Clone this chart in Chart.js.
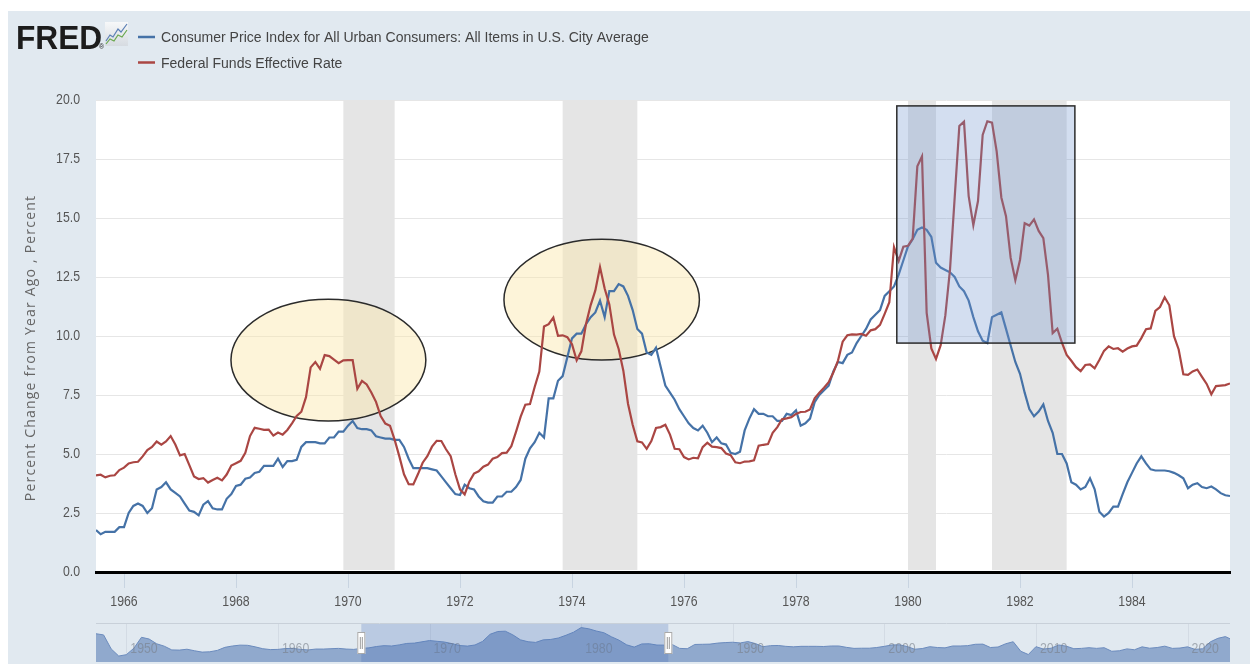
<!DOCTYPE html>
<html>
<head>
<meta charset="utf-8">
<title>FRED - CPI vs Federal Funds Rate</title>
<script src="https://cdn.jsdelivr.net/npm/chart.js@4.4.1/dist/chart.umd.min.js"></script>
<style>
  html, body { margin: 0; padding: 0; background: #fff; }
  #wrap { position: relative; width: 1250px; height: 664px; overflow: hidden; }
  #main { position: absolute; left: 0; top: 0; }
  #nav { position: absolute; left: 96px; top: 623px; }
</style>
</head>
<body>
<div id="wrap">
  <canvas id="main" width="1250" height="664"></canvas>
  <canvas id="nav" width="1134" height="41"></canvas>
</div>
<script>
// monthly observations, first one is July 1965
const START_YEAR = 1965;
const START_MONTH = 7;

const seriesNames = [
  'Consumer Price Index for All Urban Consumers: All Items in U.S. City Average',
  'Federal Funds Effective Rate'
];

// CPI, percent change from year ago
const cpiYoY = [
  1.78, 1.6, 1.7, 1.7, 1.7, 1.9,
  1.9, 2.5, 2.8, 2.9, 2.8, 2.5, 2.7, 3.5, 3.6, 3.8, 3.5, 3.35,
  3.2, 2.9, 2.6, 2.55, 2.4, 2.85, 3.0, 2.7, 2.65, 2.65, 3.1, 3.3,
  3.65, 3.7, 3.95, 4.0, 4.2, 4.25, 4.5, 4.5, 4.5, 4.8, 4.45, 4.7,
  4.7, 4.75, 5.3, 5.5, 5.5, 5.5, 5.45, 5.45, 5.7, 5.7, 5.95, 5.95,
  6.2, 6.4, 6.1, 6.05, 6.05, 6.0, 5.75, 5.7, 5.65, 5.65, 5.6, 5.6,
  5.3, 4.8, 4.4, 4.4, 4.4, 4.4, 4.35, 4.3, 4.05, 3.8, 3.55, 3.3,
  3.26, 3.7, 3.55, 3.5, 3.2, 3.0, 2.94, 2.94, 3.2, 3.2, 3.4, 3.4,
  3.6, 3.9, 4.8, 5.24, 5.5, 5.9, 5.7, 7.36, 7.36, 8.1, 8.3, 9.1,
  9.9, 10.1, 10.1, 10.5, 10.8, 11.0, 11.5, 10.8, 11.9, 11.9, 12.2, 12.1,
  11.7, 11.1, 10.3, 10.1, 9.3, 9.2, 9.5, 8.7, 7.9, 7.6, 7.3, 6.9,
  6.6, 6.3, 6.1, 6.0, 6.2, 5.9, 5.5, 5.7, 5.45, 5.4, 5.05, 5.0,
  5.1, 6.0, 6.5, 6.9, 6.7, 6.7, 6.6, 6.6, 6.4, 6.4, 6.7, 6.65,
  6.85, 6.2, 6.3, 6.5, 7.2, 7.5, 7.7, 7.9, 8.5, 8.9, 8.85, 9.2,
  9.3, 9.7, 10.0, 10.3, 10.7, 10.9, 11.1, 11.7, 11.9, 12.1, 12.6, 13.2,
  13.8, 14.1, 14.5, 14.6, 14.5, 14.2, 13.1, 12.9, 12.8, 12.7, 12.5, 12.1,
  11.9, 11.5, 10.8, 10.2, 9.8, 9.7, 10.8, 10.9, 11.0, 10.3, 9.6, 8.9,
  8.4, 7.6, 6.9, 6.6, 6.8, 7.1, 6.4, 5.9, 5.0, 5.0, 4.6, 3.8,
  3.7, 3.5, 3.6, 3.97, 3.5, 2.55, 2.35, 2.5, 2.77, 2.77, 3.3, 3.8,
  4.2, 4.6, 4.9, 4.6, 4.35, 4.3, 4.3, 4.3, 4.27, 4.2, 4.1, 3.97,
  3.55, 3.7, 3.76, 3.6, 3.55, 3.62, 3.5, 3.34, 3.25, 3.22
];

// Federal funds effective rate, percent
const fedFunds = [
  4.09, 4.12, 4.01, 4.08, 4.10, 4.32,
  4.42, 4.60, 4.65, 4.67, 4.90, 5.17, 5.30, 5.53, 5.40, 5.53, 5.76, 5.40,
  4.94, 5.00, 4.53, 4.05, 3.94, 3.98, 3.79, 3.90, 3.99, 3.88, 4.13, 4.51,
  4.61, 4.71, 5.05, 5.76, 6.11, 6.07, 6.02, 6.03, 5.78, 5.91, 5.82, 6.02,
  6.30, 6.61, 6.79, 7.41, 8.67, 8.90, 8.61, 9.19, 9.15, 9.00, 8.85, 8.97,
  8.98, 8.98, 7.76, 8.10, 7.95, 7.61, 7.21, 6.61, 6.29, 6.20, 5.60, 4.90,
  4.14, 3.72, 3.71, 4.15, 4.63, 4.91, 5.31, 5.56, 5.55, 5.20, 4.91, 4.14,
  3.50, 3.29, 3.83, 4.17, 4.27, 4.46, 4.55, 4.80, 4.87, 5.04, 5.06, 5.33,
  5.94, 6.58, 7.09, 7.12, 7.84, 8.49, 10.40, 10.50, 10.78, 10.01, 10.03, 9.95,
  9.65, 8.97, 9.35, 10.51, 11.31, 11.93, 12.92, 12.01, 11.34, 10.06, 9.45, 8.53,
  7.13, 6.24, 5.54, 5.49, 5.22, 5.55, 6.10, 6.14, 6.24, 5.82, 5.22, 5.20,
  4.87, 4.77, 4.84, 4.82, 5.29, 5.48, 5.31, 5.29, 5.25, 5.02, 4.95, 4.65,
  4.61, 4.68, 4.69, 4.73, 5.35, 5.39, 5.42, 5.90, 6.14, 6.47, 6.51, 6.56,
  6.70, 6.78, 6.79, 6.89, 7.36, 7.60, 7.81, 8.04, 8.45, 8.96, 9.76, 10.03,
  10.07, 10.06, 10.09, 10.01, 10.24, 10.29, 10.47, 10.94, 11.43, 13.77, 13.18, 13.78,
  13.82, 14.13, 17.19, 17.61, 10.98, 9.47, 9.03, 9.61, 10.87, 12.81, 15.85, 18.90,
  19.08, 15.93, 14.70, 15.72, 18.52, 19.10, 19.04, 17.82, 15.87, 15.08, 13.31, 12.37,
  13.22, 14.78, 14.68, 14.94, 14.45, 14.15, 12.59, 10.12, 10.31, 9.71, 9.20, 8.95,
  8.68, 8.51, 8.77, 8.80, 8.63, 8.98, 9.37, 9.56, 9.45, 9.48, 9.34, 9.47,
  9.56, 9.59, 9.91, 10.29, 10.32, 11.06, 11.23, 11.64, 11.30, 9.99, 9.43, 8.38,
  8.35, 8.50, 8.58, 8.27, 7.97, 7.53, 7.88, 7.90, 7.92, 7.99
];

const tickYears = [1966, 1968, 1970, 1972, 1974, 1976, 1978, 1980, 1982, 1984];
const yTicks = [0, 2.5, 5, 7.5, 10, 12.5, 15, 17.5, 20];
const yTitle = 'Percent Change from Year Ago , Percent';

// NBER recessions (start, end) as decimal years
const recessions = [[1969.917, 1970.833], [1973.833, 1975.167], [1980.0, 1980.5], [1981.5, 1982.833]];

// hand-drawn highlights, in data units
const ellipses = [
  { cx: 1969.65, cy: 8.98, rx: 1.74, ry: 2.58 },
  { cx: 1974.53, cy: 11.54, rx: 1.745, ry: 2.555 }
];
const box = { x0: 1979.80, x1: 1982.98, y0: 9.7, y1: 19.75 };

// navigator strip: CPI year-ago change, half-year steps from 1948
const NAV_START = 1948;
const navValues = [
  10.2, 9.5, 1.3, -2.9, -2.1, 1.7, 8.1, 7.1, 4.3, 2.9, 0.7, 0.6, 1.1, 0.2, -0.6, -0.4,
  0.4, 2.2, 3.0, 3.5, 3.4, 2.5, 1.4, 0.9, 1.0, 1.5, 1.6, 1.0, 0.7, 1.2, 1.2, 1.4,
  1.6, 1.2, 1.0, 1.6, 1.9, 2.7, 3.2, 3.0, 3.65, 4.5, 4.7, 5.45, 6.2, 5.75, 5.3, 4.35,
  3.26, 2.94, 3.6, 5.7, 9.9, 11.5, 11.7, 9.5, 6.6, 5.5, 5.1, 6.6, 6.85, 7.7, 9.3, 11.1,
  13.8, 13.1, 11.8, 10.8, 8.4, 6.4, 3.7, 2.35, 4.2, 4.3, 3.55, 3.5, 3.9, 1.6, 1.4, 3.9,
  4.0, 4.1, 4.7, 5.0, 5.2, 4.8, 5.6, 4.4, 2.6, 3.2, 3.3, 2.8, 2.5, 2.8, 2.8, 2.8,
  2.7, 3.0, 3.0, 2.2, 1.6, 1.7, 1.7, 2.1, 2.8, 3.6, 3.7, 2.7, 1.1, 1.5, 2.6, 2.1,
  1.9, 3.0, 3.0, 3.2, 4.0, 4.1, 2.1, 2.4, 4.3, 5.5, -0.1, -2.0, 2.6, 1.2, 1.7, 3.6,
  2.9, 1.4, 1.6, 2.0, 1.6, 2.0, -0.1, 0.2, 1.3, 0.8, 2.5, 1.7, 2.1, 2.9, 1.6, 1.8,
  2.5, 1.0, 1.4, 5.4, 7.5, 8.5, 6.4
];
const navLabelYears = [1950, 1960, 1970, 1980, 1990, 2000, 2010, 2020];

// FRED uses a condensed face; squeeze Liberation Sans the way Arial Narrow does
function narrowText(ctx, text, x, y, size, align, color, sx = 0.82) {
  ctx.save();
  ctx.translate(x, y);
  ctx.scale(sx, 1);
  ctx.font = `${size}px "Liberation Sans", Arial, sans-serif`;
  ctx.textAlign = align;
  ctx.textBaseline = 'middle';
  ctx.fillStyle = color;
  ctx.fillText(text, 0, 0);
  ctx.restore();
}

const toYear = i => START_YEAR + (START_MONTH - 1 + i) / 12;
const xMin = toYear(0);
const xMax = toYear(cpiYoY.length - 1);

const fredDecor = {
  id: 'fredDecor',
  beforeDraw(chart) {
    const { ctx, chartArea: a } = chart;
    ctx.save();
    ctx.fillStyle = '#fff';
    ctx.fillRect(0, 0, chart.width, chart.height);
    ctx.fillStyle = '#e1e9f0';
    ctx.fillRect(8, 11, chart.width - 8, chart.height - 11);
    ctx.fillStyle = '#fff';
    ctx.fillRect(a.left, a.top, a.right - a.left, a.bottom - a.top);
    ctx.restore();
  },
  beforeDatasetsDraw(chart) {
    const { ctx, chartArea: a, scales: { x, y } } = chart;
    ctx.save();
    ctx.fillStyle = '#e5e5e5';
    recessions.forEach(([s, e]) => {
      const x0 = x.getPixelForValue(s), x1 = x.getPixelForValue(e);
      ctx.fillRect(x0, a.top, x1 - x0, a.bottom - a.top - 2);
    });
    // ellipses sit under the lines
    ellipses.forEach(e => {
      const cx = x.getPixelForValue(e.cx), cy = y.getPixelForValue(e.cy);
      const rx = x.getPixelForValue(e.cx + e.rx) - cx;
      const ry = cy - y.getPixelForValue(e.cy + e.ry);
      ctx.beginPath();
      ctx.ellipse(cx, cy, rx, ry, 0, 0, Math.PI * 2);
      ctx.fillStyle = 'rgba(250, 230, 170, 0.45)';
      ctx.fill();
      ctx.lineWidth = 1.5;
      ctx.strokeStyle = '#2b2b2b';
      ctx.stroke();
    });
    ctx.restore();
  },
  afterDatasetsDraw(chart) {
    const { ctx, scales: { x, y } } = chart;
    ctx.save();
    const bx0 = x.getPixelForValue(box.x0), bx1 = x.getPixelForValue(box.x1);
    const by0 = y.getPixelForValue(box.y1), by1 = y.getPixelForValue(box.y0);
    ctx.fillStyle = 'rgba(110, 145, 205, 0.3)';
    ctx.fillRect(bx0, by0, bx1 - bx0, by1 - by0);
    ctx.lineWidth = 1.5;
    ctx.strokeStyle = '#2b2b2b';
    ctx.strokeRect(bx0, by0, bx1 - bx0, by1 - by0);
    ctx.restore();
  },
  afterDraw(chart) {
    const { ctx, scales: { x, y } } = chart;
    ctx.save();

    // tick labels
    yTicks.forEach(v => narrowText(ctx, v.toFixed(1), 80, y.getPixelForValue(v), 15, 'right', '#555'));
    tickYears.forEach(v => narrowText(ctx, String(v), x.getPixelForValue(v), 602, 15, 'center', '#555'));

    // FRED logo
    ctx.fillStyle = '#1c1c1c';
    ctx.font = 'bold 33px "Liberation Sans", sans-serif';
    ctx.textBaseline = 'alphabetic';
    ctx.save();
    ctx.translate(16, 49);
    ctx.scale(0.96, 1);
    ctx.fillText('FRED', 0, 0);
    ctx.restore();
    ctx.font = '7px "Liberation Sans", sans-serif';
    ctx.fillText('\u00AE', 99, 49);
    const g = ctx.createLinearGradient(0, 22, 0, 46);
    g.addColorStop(0, '#f7f8f9');
    g.addColorStop(1, '#d6dbe1');
    ctx.fillStyle = g;
    ctx.fillRect(105, 22, 23, 24);
    ctx.lineWidth = 1.2;
    ctx.strokeStyle = '#5b7fb5';
    ctx.beginPath();
    [[106, 41], [110, 35], [113, 37], [118, 29], [121, 32], [127, 24]].forEach(([px, py], i) => i ? ctx.lineTo(px, py) : ctx.moveTo(px, py));
    ctx.stroke();
    ctx.strokeStyle = '#6aa84f';
    ctx.beginPath();
    [[106, 44], [110, 39], [114, 41], [118, 35], [122, 37], [127, 30]].forEach(([px, py], i) => i ? ctx.lineTo(px, py) : ctx.moveTo(px, py));
    ctx.stroke();

    // legend
    chart.data.datasets.forEach((ds, i) => {
      const ly = 37 + i * 25.5;
      ctx.strokeStyle = ds.borderColor;
      ctx.lineWidth = 2.5;
      ctx.beginPath();
      ctx.moveTo(138, ly);
      ctx.lineTo(155, ly);
      ctx.stroke();
      narrowText(ctx, ds.label, 161, ly + 1, 15.5, 'left', '#444', 0.905);
    });

    // y axis title
    ctx.translate(31, 348);
    ctx.rotate(-Math.PI / 2);
    ctx.textAlign = 'center';
    ctx.textBaseline = 'middle';
    ctx.font = '14px "Open Sans", sans-serif';
    ctx.letterSpacing = '1.2px';
    ctx.fillStyle = '#666';
    ctx.fillText(yTitle, 0, 0);
    ctx.restore();
  }
};

new Chart(document.getElementById('main'), {
  type: 'line',
  data: {
    datasets: [
      {
        label: seriesNames[0],
        data: cpiYoY.map((v, i) => ({ x: toYear(i), y: v })),
        borderColor: '#4572a7',
        borderWidth: 2.2,
        pointRadius: 0,
        tension: 0,
        order: 1
      },
      {
        label: seriesNames[1],
        data: fedFunds.map((v, i) => ({ x: toYear(i), y: v })),
        borderColor: '#aa4643',
        borderWidth: 2.2,
        pointRadius: 0,
        tension: 0,
        order: 0
      }
    ]
  },
  options: {
    responsive: false,
    animation: false,
    layout: { padding: { left: 8, top: 100, right: 20, bottom: 0 } },
    plugins: {
      legend: { display: false },
      tooltip: { enabled: false }
    },
    scales: {
      x: {
        type: 'linear',
        min: xMin,
        max: xMax,
        afterBuildTicks: s => { s.ticks = tickYears.map(v => ({ value: v })); },
        afterFit: s => { s.height = 92; },
        ticks: { autoSkip: false, maxRotation: 0, color: 'rgba(0,0,0,0)', callback: v => String(v) },
        grid: { drawOnChartArea: false, drawTicks: true, tickLength: 16, color: '#c8d4e1' },
        border: { display: true, color: '#000', width: 3 }
      },
      y: {
        min: 0,
        max: 20,
        afterBuildTicks: s => { s.ticks = yTicks.map(v => ({ value: v })); },
        afterFit: s => { s.width = 88; },
        ticks: { color: 'rgba(0,0,0,0)', callback: v => v.toFixed(1) },
        grid: { color: '#e6e6e6', drawTicks: false },
        border: { display: false }
      }
    }
  },
  plugins: [fredDecor]
});

const navDecor = {
  id: 'navDecor',
  beforeDatasetsDraw(chart) {
    const { ctx, scales: { x } } = chart;
    ctx.save();
    ctx.strokeStyle = '#d3dbe4';
    ctx.lineWidth = 1;
    navLabelYears.forEach(yr => {
      const px = Math.round(x.getPixelForValue(yr)) + 0.5;
      ctx.beginPath();
      ctx.moveTo(px, 1);
      ctx.lineTo(px, chart.chartArea.bottom);
      ctx.stroke();
    });
    ctx.strokeStyle = '#c8d0d9';
    ctx.beginPath();
    ctx.moveTo(0, 0.5);
    ctx.lineTo(chart.width, 0.5);
    ctx.stroke();
    ctx.restore();
  },
  afterDatasetsDraw(chart) {
    const { ctx, chartArea: a, scales: { x } } = chart;
    ctx.save();
    navLabelYears.forEach(yr => narrowText(ctx, String(yr), x.getPixelForValue(yr) + 4, 26, 15, 'left', 'rgba(120, 126, 136, 0.6)'));
    const s0 = x.getPixelForValue(xMin), s1 = x.getPixelForValue(xMax);
    ctx.fillStyle = 'rgba(70, 110, 185, 0.25)';
    ctx.fillRect(s0, 1, s1 - s0, a.bottom - 1);
    [s0, s1].forEach(hx => {
      ctx.fillStyle = '#fff';
      ctx.strokeStyle = '#a9a9a9';
      ctx.lineWidth = 1;
      ctx.fillRect(hx - 4, 9, 8, 22);
      ctx.strokeRect(hx - 3.5, 9.5, 7, 21);
      ctx.strokeStyle = '#999';
      ctx.beginPath();
      ctx.moveTo(hx - 1, 14); ctx.lineTo(hx - 1, 26);
      ctx.moveTo(hx + 1, 14); ctx.lineTo(hx + 1, 26);
      ctx.stroke();
    });
    ctx.restore();
  }
};

new Chart(document.getElementById('nav'), {
  type: 'line',
  data: {
    datasets: [{
      data: navValues.map((v, i) => ({ x: NAV_START + i / 2, y: v })),
      borderColor: '#6b8bbd',
      borderWidth: 1,
      backgroundColor: '#90a9cd',
      fill: 'start',
      pointRadius: 0,
      tension: 0
    }]
  },
  options: {
    responsive: false,
    animation: false,
    layout: { padding: { left: 0, right: 0, top: 0, bottom: 2 } },
    plugins: { legend: { display: false }, tooltip: { enabled: false } },
    scales: {
      x: { type: 'linear', display: false, min: NAV_START, max: 2022.8 },
      y: { display: false, min: -6.4, max: 16.5 }
    }
  },
  plugins: [navDecor]
});
</script>
</body>
</html>
